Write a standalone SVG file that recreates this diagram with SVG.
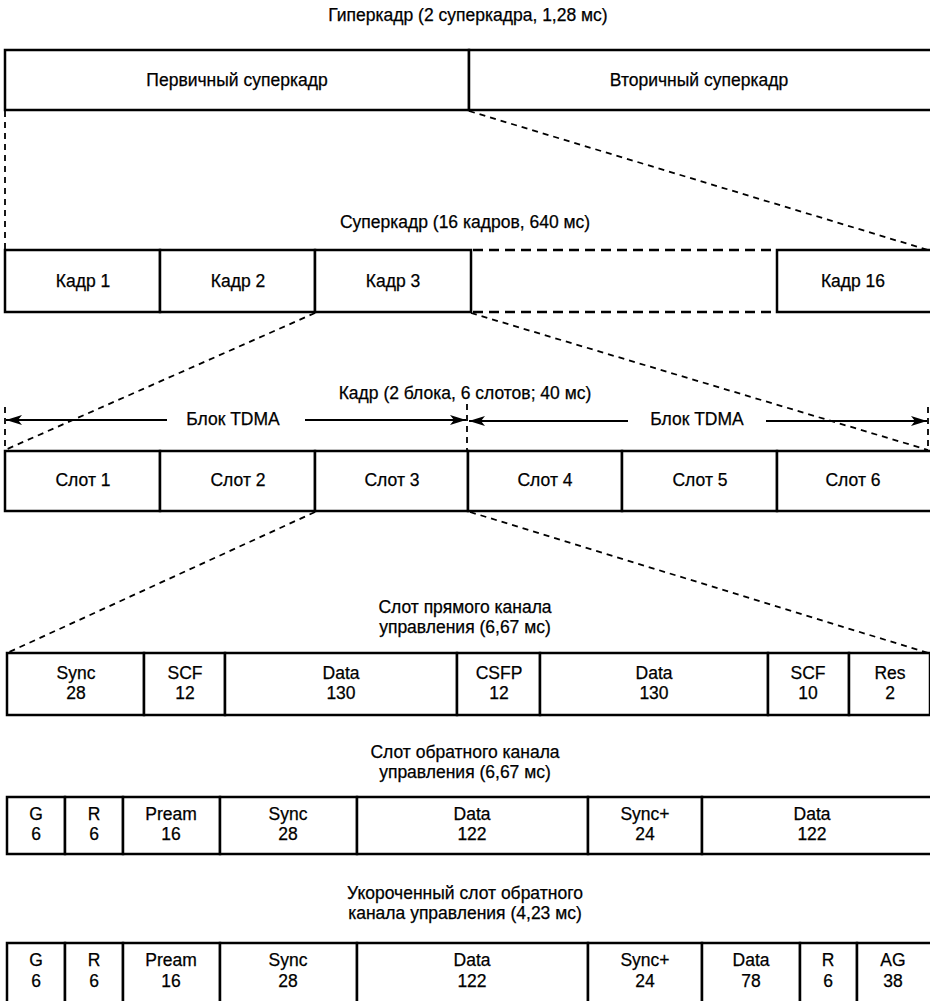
<svg xmlns="http://www.w3.org/2000/svg" width="930" height="1001" viewBox="0 0 930 1001">
<defs>
<style>
text{font-family:"Liberation Sans",Arial,sans-serif;font-size:17.5px;fill:#000;stroke:#000;stroke-width:0.25;text-anchor:middle;dominant-baseline:central}
.c{fill:#fff;stroke:#000;stroke-width:2.5}
.d{fill:none;stroke:#000;stroke-width:1.8;stroke-dasharray:6 5}
.dt{fill:none;stroke:#000;stroke-width:2.6;stroke-dasharray:10 6}
.a{fill:none;stroke:#000;stroke-width:2.2}
</style>
<marker id="ah" viewBox="0 0 16 10" refX="16" refY="5" markerWidth="16" markerHeight="10" markerUnits="userSpaceOnUse" orient="auto">
<path d="M0,0 L16,5 L0,10 L4,5 Z" fill="#000"/>
</marker>
</defs>
<rect width="930" height="1001" fill="#fff"/>

<g id="titles">
<text x="468" y="15">Гиперкадр (2 суперкадра, 1,28 мс)</text>
<text x="465" y="222">Суперкадр (16 кадров, 640 мс)</text>
<text x="465" y="393">Кадр (2 блока, 6 слотов; 40 мс)</text>
<text x="465" y="607">Слот прямого канала</text>
<text x="465" y="627">управления (6,67 мс)</text>
<text x="465" y="752">Слот обратного канала</text>
<text x="465" y="772">управления (6,67 мс)</text>
<text x="465" y="893">Укороченный слот обратного</text>
<text x="465" y="913">канала управления (4,23 мс)</text>
</g>

<g id="connectors">
<line class="d" x1="5" y1="111" x2="5" y2="249"/>
<line class="d" x1="469" y1="111" x2="928" y2="250"/>
<line class="dt" x1="473" y1="250" x2="776" y2="250"/>
<line class="dt" x1="473" y1="312" x2="776" y2="312"/>
<line class="d" x1="315" y1="313" x2="5" y2="450"/>
<line class="d" x1="471" y1="313" x2="928" y2="450"/>
<line class="d" x1="5" y1="407" x2="5" y2="450"/>
<line class="d" x1="467" y1="404" x2="467" y2="458"/>
<line class="d" x1="928" y1="407" x2="928" y2="450"/>
<line class="d" x1="315" y1="512" x2="7" y2="653"/>
<line class="d" x1="470" y1="512" x2="928" y2="653"/>
<line class="a" x1="167" y1="420" x2="6" y2="420" marker-end="url(#ah)"/>
<line class="a" x1="305" y1="420" x2="466" y2="420" marker-end="url(#ah)"/>
<line class="a" x1="628" y1="421" x2="469" y2="421" marker-end="url(#ah)"/>
<line class="a" x1="766" y1="421" x2="927" y2="421" marker-end="url(#ah)"/>
<text x="233" y="419">Блок TDMA</text>
<text x="697" y="419">Блок TDMA</text>
</g>

<g id="hyper-primary"><rect class="c" x="5" y="50" width="464" height="60"/><text x="237" y="80">Первичный суперкадр</text></g>
<g id="hyper-secondary"><rect class="c" x="469" y="50" width="465" height="60"/><text x="699" y="80">Вторичный суперкадр</text></g>

<g id="frame-1"><rect class="c" x="5" y="250" width="155" height="62"/><text x="83" y="281">Кадр 1</text></g>
<g id="frame-2"><rect class="c" x="160" y="250" width="155" height="62"/><text x="238" y="281">Кадр 2</text></g>
<g id="frame-3"><rect class="c" x="315" y="250" width="156" height="62"/><text x="393" y="281">Кадр 3</text></g>
<g id="frame-16"><rect class="c" x="777" y="250" width="157" height="62"/><text x="853" y="281">Кадр 16</text></g>

<g id="slot-1"><rect class="c" x="5" y="451" width="155" height="60"/><text x="83" y="480">Слот 1</text></g>
<g id="slot-2"><rect class="c" x="160" y="451" width="155" height="60"/><text x="238" y="480">Слот 2</text></g>
<g id="slot-3"><rect class="c" x="315" y="451" width="153" height="60"/><text x="392" y="480">Слот 3</text></g>
<g id="slot-4"><rect class="c" x="468" y="451" width="154" height="60"/><text x="545" y="480">Слот 4</text></g>
<g id="slot-5"><rect class="c" x="622" y="451" width="155" height="60"/><text x="700" y="480">Слот 5</text></g>
<g id="slot-6"><rect class="c" x="777" y="451" width="157" height="60"/><text x="853" y="480">Слот 6</text></g>

<g id="fwd-sync"><rect class="c" x="7" y="653" width="137" height="62"/><text x="76" y="673">Sync</text><text x="76" y="693">28</text></g>
<g id="fwd-scf1"><rect class="c" x="144" y="653" width="81" height="62"/><text x="185" y="673">SCF</text><text x="185" y="693">12</text></g>
<g id="fwd-data1"><rect class="c" x="225" y="653" width="232" height="62"/><text x="341" y="673">Data</text><text x="341" y="693">130</text></g>
<g id="fwd-csfp"><rect class="c" x="457" y="653" width="83" height="62"/><text x="499" y="673">CSFP</text><text x="499" y="693">12</text></g>
<g id="fwd-data2"><rect class="c" x="540" y="653" width="228" height="62"/><text x="654" y="673">Data</text><text x="654" y="693">130</text></g>
<g id="fwd-scf2"><rect class="c" x="768" y="653" width="81" height="62"/><text x="808" y="673">SCF</text><text x="808" y="693">10</text></g>
<g id="fwd-res"><rect class="c" x="849" y="653" width="81" height="62"/><text x="890" y="673">Res</text><text x="890" y="693">2</text></g>

<g id="rev-g"><rect class="c" x="7" y="797" width="58" height="57"/><text x="36" y="814">G</text><text x="36" y="834">6</text></g>
<g id="rev-r"><rect class="c" x="65" y="797" width="58" height="57"/><text x="94" y="814">R</text><text x="94" y="834">6</text></g>
<g id="rev-pream"><rect class="c" x="123" y="797" width="97" height="57"/><text x="171" y="814">Pream</text><text x="171" y="834">16</text></g>
<g id="rev-sync"><rect class="c" x="220" y="797" width="137" height="57"/><text x="288" y="814">Sync</text><text x="288" y="834">28</text></g>
<g id="rev-data1"><rect class="c" x="357" y="797" width="231" height="57"/><text x="472" y="814">Data</text><text x="472" y="834">122</text></g>
<g id="rev-syncplus"><rect class="c" x="588" y="797" width="114" height="57"/><text x="645" y="814">Sync+</text><text x="645" y="834">24</text></g>
<g id="rev-data2"><rect class="c" x="702" y="797" width="232" height="57"/><text x="812" y="814">Data</text><text x="812" y="834">122</text></g>

<g id="short-g"><rect class="c" x="7" y="943" width="58" height="62"/><text x="36" y="960">G</text><text x="36" y="981">6</text></g>
<g id="short-r1"><rect class="c" x="65" y="943" width="58" height="62"/><text x="94" y="960">R</text><text x="94" y="981">6</text></g>
<g id="short-pream"><rect class="c" x="123" y="943" width="97" height="62"/><text x="171" y="960">Pream</text><text x="171" y="981">16</text></g>
<g id="short-sync"><rect class="c" x="220" y="943" width="137" height="62"/><text x="288" y="960">Sync</text><text x="288" y="981">28</text></g>
<g id="short-data1"><rect class="c" x="357" y="943" width="231" height="62"/><text x="472" y="960">Data</text><text x="472" y="981">122</text></g>
<g id="short-syncplus"><rect class="c" x="588" y="943" width="114" height="62"/><text x="645" y="960">Sync+</text><text x="645" y="981">24</text></g>
<g id="short-data2"><rect class="c" x="702" y="943" width="98" height="62"/><text x="751" y="960">Data</text><text x="751" y="981">78</text></g>
<g id="short-r2"><rect class="c" x="800" y="943" width="57" height="62"/><text x="828" y="960">R</text><text x="828" y="981">6</text></g>
<g id="short-ag"><rect class="c" x="857" y="943" width="77" height="62"/><text x="893" y="960">AG</text><text x="893" y="981">38</text></g>
</svg>
